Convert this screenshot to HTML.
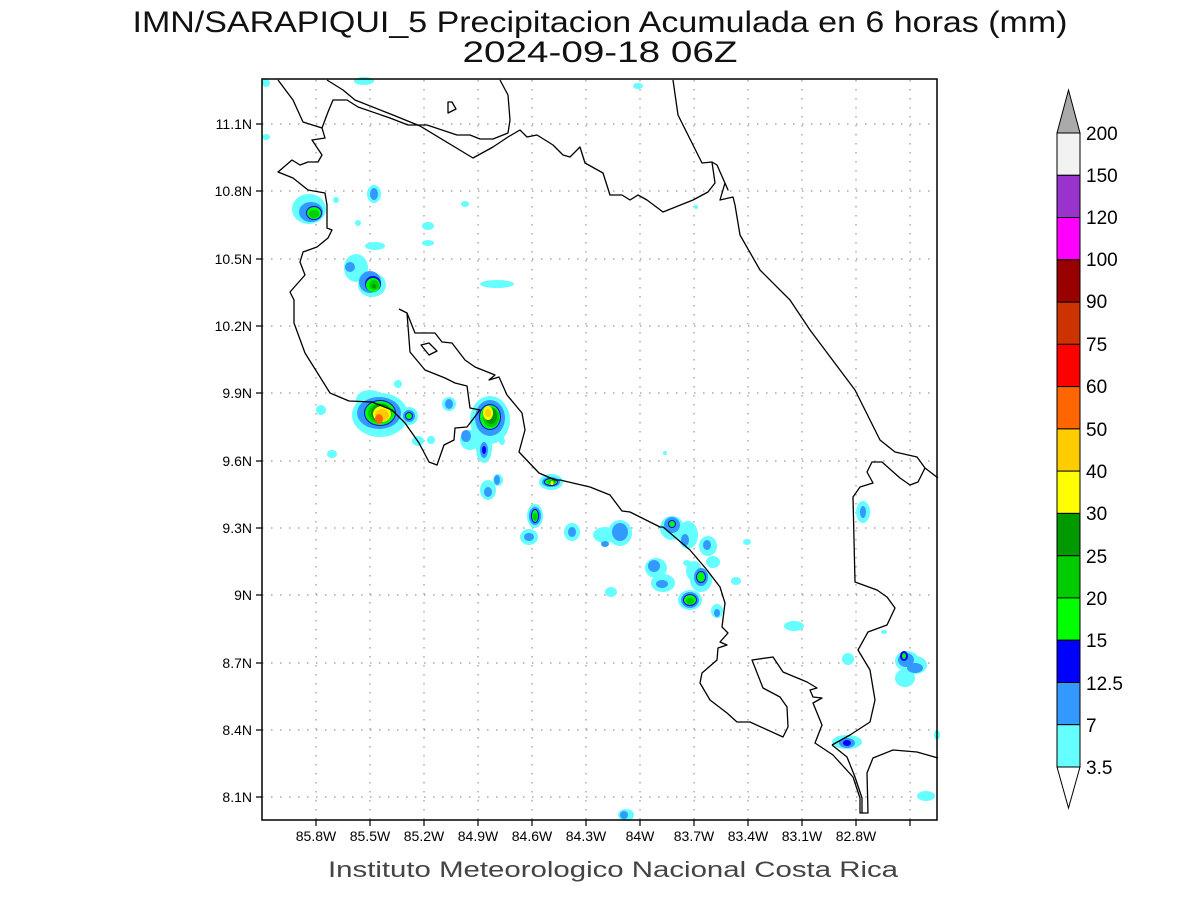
<!DOCTYPE html>
<html><head><meta charset="utf-8"><style>
html,body{margin:0;padding:0;background:#fff;}
svg{display:block;}
text{font-family:"Liberation Sans",sans-serif;}
</style></head><body>
<svg width="1200" height="900" viewBox="0 0 1200 900" xmlns="http://www.w3.org/2000/svg">
<rect width="1200" height="900" fill="#fff"/>
<text x="600" y="32" font-size="30" text-anchor="middle" textLength="935" lengthAdjust="spacingAndGlyphs" fill="#111">IMN/SARAPIQUI_5 Precipitacion Acumulada en 6 horas (mm)</text>
<text x="600" y="62" font-size="30" text-anchor="middle" textLength="275" lengthAdjust="spacingAndGlyphs" fill="#111">2024-09-18 06Z</text>

<g stroke="#999" stroke-width="1.2" stroke-dasharray="1.5,7.5">
<path d="M316 80V820M370 80V820M424 80V820M478 80V820M532 80V820M586 80V820M640 80V820M694 80V820M748 80V820M802 80V820M856 80V820M910 80V820"/>
<path d="M262 124H937M262 191H937M262 259H937M262 326H937M262 393H937M262 461H937M262 528H937M262 595H937M262 663H937M262 730H937M262 797H937"/>
</g>

<g fill="#66ffff">
<ellipse cx="364" cy="81" rx="10" ry="4"/>
<ellipse cx="638" cy="86" rx="5" ry="3"/>
<ellipse cx="266" cy="83" rx="4" ry="4"/>
<ellipse cx="266" cy="137" rx="4" ry="3"/>
<ellipse cx="309" cy="209" rx="17" ry="15"/>
<ellipse cx="374" cy="194" rx="7" ry="9"/>
<ellipse cx="336" cy="200" rx="3" ry="3"/>
<ellipse cx="358" cy="223" rx="3" ry="3"/>
<ellipse cx="428" cy="226" rx="6" ry="4"/>
<ellipse cx="428" cy="243" rx="6" ry="3"/>
<ellipse cx="375" cy="246" rx="10" ry="4"/>
<ellipse cx="465" cy="204" rx="4" ry="3"/>
<ellipse cx="497" cy="284" rx="17" ry="4"/>
<ellipse cx="356" cy="268" rx="12" ry="14"/>
<ellipse cx="372" cy="285" rx="14" ry="12"/>
<ellipse cx="380" cy="415" rx="28" ry="22"/>
<ellipse cx="370" cy="400" rx="14" ry="10"/>
<ellipse cx="409" cy="416" rx="9" ry="9"/>
<ellipse cx="398" cy="384" rx="4" ry="4"/>
<ellipse cx="321" cy="410" rx="5" ry="5"/>
<ellipse cx="332" cy="454" rx="5" ry="4"/>
<ellipse cx="449" cy="404" rx="7" ry="7"/>
<ellipse cx="490" cy="420" rx="20" ry="24"/>
<ellipse cx="470" cy="440" rx="10" ry="10"/>
<ellipse cx="484" cy="448" rx="8" ry="15"/>
<ellipse cx="418" cy="441" rx="6" ry="5"/>
<ellipse cx="431" cy="440" rx="4" ry="4"/>
<ellipse cx="502" cy="441" rx="3" ry="4"/>
<ellipse cx="551" cy="482" rx="12" ry="8"/>
<ellipse cx="488" cy="490" rx="8" ry="10"/>
<ellipse cx="498" cy="480" rx="5" ry="6"/>
<ellipse cx="535" cy="516" rx="8" ry="12"/>
<ellipse cx="529" cy="537" rx="9" ry="8"/>
<ellipse cx="572" cy="532" rx="8" ry="9"/>
<ellipse cx="605" cy="535" rx="12" ry="8"/>
<ellipse cx="620" cy="533" rx="12" ry="13"/>
<ellipse cx="611" cy="592" rx="6" ry="5"/>
<ellipse cx="672" cy="528" rx="12" ry="12"/>
<ellipse cx="688" cy="535" rx="10" ry="14"/>
<ellipse cx="708" cy="546" rx="9" ry="10"/>
<ellipse cx="656" cy="568" rx="11" ry="10"/>
<ellipse cx="663" cy="583" rx="12" ry="9"/>
<ellipse cx="687" cy="563" rx="4" ry="3"/>
<ellipse cx="694" cy="571" rx="8" ry="10"/>
<ellipse cx="701" cy="580" rx="11" ry="12"/>
<ellipse cx="690" cy="600" rx="12" ry="10"/>
<ellipse cx="717" cy="611" rx="6" ry="7"/>
<ellipse cx="713" cy="562" rx="7" ry="6"/>
<ellipse cx="736" cy="581" rx="5" ry="4"/>
<ellipse cx="747" cy="542" rx="4" ry="3"/>
<ellipse cx="665" cy="453" rx="2" ry="2"/>
<ellipse cx="696" cy="207" rx="2" ry="2"/>
<ellipse cx="794" cy="626" rx="10" ry="5"/>
<ellipse cx="848" cy="659" rx="6" ry="6"/>
<ellipse cx="884" cy="632" rx="3" ry="2"/>
<ellipse cx="863" cy="512" rx="7" ry="11"/>
<ellipse cx="907" cy="661" rx="12" ry="10"/>
<ellipse cx="915" cy="665" rx="12" ry="9"/>
<ellipse cx="905" cy="678" rx="10" ry="9"/>
<ellipse cx="847" cy="742" rx="15" ry="7"/>
<ellipse cx="926" cy="796" rx="9" ry="5"/>
<ellipse cx="937" cy="735" rx="3" ry="5"/>
<ellipse cx="626" cy="815" rx="8" ry="6"/>
</g>
<g fill="#3399ff">
<ellipse cx="311" cy="212" rx="12" ry="10"/>
<ellipse cx="374" cy="194" rx="4" ry="6"/>
<ellipse cx="350" cy="267" rx="5" ry="5"/>
<ellipse cx="370" cy="282" rx="11" ry="11"/>
<ellipse cx="379" cy="413" rx="22" ry="16"/>
<ellipse cx="409" cy="416" rx="6" ry="6"/>
<ellipse cx="449" cy="404" rx="4" ry="5"/>
<ellipse cx="490" cy="418" rx="15" ry="18"/>
<ellipse cx="466" cy="436" rx="5" ry="6"/>
<ellipse cx="484" cy="450" rx="4" ry="8"/>
<ellipse cx="551" cy="482" rx="9" ry="5"/>
<ellipse cx="497" cy="480" rx="3" ry="5"/>
<ellipse cx="488" cy="492" rx="4" ry="5"/>
<ellipse cx="535" cy="516" rx="6" ry="9"/>
<ellipse cx="529" cy="537" rx="5" ry="4"/>
<ellipse cx="572" cy="532" rx="4" ry="5"/>
<ellipse cx="620" cy="532" rx="8" ry="9"/>
<ellipse cx="605" cy="544" rx="4" ry="3"/>
<ellipse cx="672" cy="525" rx="8" ry="8"/>
<ellipse cx="685" cy="540" rx="4" ry="6"/>
<ellipse cx="707" cy="545" rx="4" ry="5"/>
<ellipse cx="654" cy="566" rx="6" ry="6"/>
<ellipse cx="662" cy="584" rx="6" ry="4"/>
<ellipse cx="701" cy="577" rx="7" ry="9"/>
<ellipse cx="690" cy="600" rx="9" ry="8"/>
<ellipse cx="717" cy="613" rx="3" ry="4"/>
<ellipse cx="863" cy="512" rx="3" ry="6"/>
<ellipse cx="906" cy="660" rx="8" ry="7"/>
<ellipse cx="915" cy="668" rx="8" ry="5"/>
<ellipse cx="847" cy="743" rx="8" ry="5"/>
<ellipse cx="624" cy="815" rx="4" ry="4"/>
</g>
<g fill="#0000ff">
<ellipse cx="314" cy="213" rx="8" ry="7"/>
<ellipse cx="373" cy="284" rx="8" ry="8"/>
<ellipse cx="380" cy="413" rx="16" ry="13"/>
<ellipse cx="409" cy="416" rx="4" ry="4"/>
<ellipse cx="490" cy="417" rx="11" ry="13"/>
<ellipse cx="484" cy="450" rx="2" ry="4"/>
<ellipse cx="551" cy="482" rx="7" ry="4"/>
<ellipse cx="535" cy="516" rx="4" ry="7"/>
<ellipse cx="672" cy="524" rx="4" ry="4"/>
<ellipse cx="701" cy="577" rx="5" ry="6"/>
<ellipse cx="690" cy="600" rx="7" ry="6"/>
<ellipse cx="904" cy="656" rx="4" ry="5"/>
<ellipse cx="847" cy="743" rx="4" ry="3"/>
</g>
<g fill="#00ff00">
<ellipse cx="314" cy="213" rx="7" ry="6"/>
<ellipse cx="373" cy="285" rx="7" ry="7"/>
<ellipse cx="380" cy="413" rx="15" ry="12"/>
<ellipse cx="409" cy="416" rx="3" ry="3"/>
<ellipse cx="490" cy="417" rx="10" ry="12"/>
<ellipse cx="551" cy="482" rx="6" ry="3"/>
<ellipse cx="535" cy="516" rx="3" ry="6"/>
<ellipse cx="672" cy="524" rx="3" ry="3"/>
<ellipse cx="701" cy="577" rx="4" ry="5"/>
<ellipse cx="690" cy="600" rx="6" ry="5"/>
<ellipse cx="904" cy="656" rx="2" ry="3"/>
</g>
<g fill="#00cc00">
<ellipse cx="314" cy="214" rx="5" ry="4"/>
<ellipse cx="374" cy="285" rx="5" ry="5"/>
<ellipse cx="380" cy="413" rx="12" ry="10"/>
<ellipse cx="491" cy="417" rx="8" ry="10"/>
<ellipse cx="552" cy="482" rx="4" ry="2"/>
<ellipse cx="535" cy="517" rx="2" ry="4"/>
<ellipse cx="690" cy="601" rx="4" ry="3"/>
</g>
<g fill="#009900">
<ellipse cx="381" cy="413" rx="10" ry="9"/>
<ellipse cx="491" cy="416" rx="6" ry="8"/>
<ellipse cx="374" cy="286" rx="2" ry="2"/>
</g>
<ellipse cx="382" cy="414" rx="9" ry="8" fill="#ffff00"/>
<ellipse cx="488" cy="413" rx="5" ry="7" fill="#ffff00"/>
<ellipse cx="552" cy="483" rx="1.5" ry="2" fill="#ffff00"/>
<ellipse cx="382" cy="415" rx="7" ry="6" fill="#ffcc00"/>
<ellipse cx="488" cy="413" rx="3" ry="4" fill="#ffcc00"/>
<ellipse cx="379" cy="419" rx="4" ry="5" fill="#ff6600"/>

<g fill="none" stroke="#000" stroke-width="1.3" stroke-linejoin="round">
<polyline points="278,80 293,100 303,122 322,128 325,138 312,140 322,155 318,162 308,162 300,165 292,160 278,172 293,178 308,190 325,193 327,205 327,228 332,230 328,238 317,247 303,252 300,262 305,275 290,292 294,300 294,323 305,353 330,393 349,401 372,402 392,410 405,423 419,443 429,462 437,465 444,445 454,440 455,428 467,427 480,410 470,408 467,386 455,383 445,378 425,370 410,352 407,313 399,309"/>
<polyline points="407,313 415,333 435,333 442,342 452,343 465,360 475,367 495,375 489,380 499,377 507,395 522,413 525,430 519,452 539,473 555,480 560,480 590,487 610,495 622,511 630,512 660,527 663,527 690,550 707,570 720,587 725,603 722,627 728,633 720,642 727,645 718,648 717,660 702,673 700,683 710,700 727,713 737,722 750,722 783,737 788,727 787,707 780,697 763,688 752,660 773,657 783,672 807,682 817,688 810,690 813,697 822,698 813,703 822,725 815,743 833,755 853,777 860,798 860,813 868,813 867,773 873,758 893,750 917,752 938,758"/>
<polygon points="421,345 429,343 437,351 429,355"/>
<polygon points="448,102 452,102 456,109 448,113"/>
<polyline points="327,80 343,90 355,100 393,115 420,126 473,158 493,147 508,137 520,130 527,137 537,135 553,145 563,155 570,157 580,147 585,163 603,173 610,195 622,195 630,200 638,195 647,200 663,212 693,200 708,192 715,183 712,162"/>
<polyline points="322,128 328,112 333,100 347,100 358,107 390,118 408,125 427,125 457,135 470,135 480,139 493,139 508,133 510,120 508,95 500,80"/>
<polyline points="673,80 678,115 693,145 702,163 712,162 717,165 728,190 725,183 720,200 733,197 735,205 740,235 760,270 790,300 810,330 840,370 855,390 865,410 880,440 895,452 917,457 925,468 938,478"/>
<polyline points="832,745 850,735 870,722 875,700 870,670 858,650 868,632 887,625 895,608 887,597 877,590 855,582 853,497 860,487 873,483 867,472 872,462 882,462 900,478 910,485 918,482 925,468"/>
<polyline points="832,745 847,757 855,777 862,798 862,813"/>
</g>

<rect x="262" y="79" width="675" height="741" fill="none" stroke="#000" stroke-width="1.5"/>
<g stroke="#000" stroke-width="1.2">
<path d="M256 124H262M256 191H262M256 259H262M256 326H262M256 393H262M256 461H262M256 528H262M256 595H262M256 663H262M256 730H262M256 797H262"/>
<path d="M316 820V826M370 820V826M424 820V826M478 820V826M532 820V826M586 820V826M640 820V826M694 820V826M748 820V826M802 820V826M856 820V826M910 820V826"/>
</g>
<g font-size="14" fill="#000" text-anchor="end">
<text x="252" y="129">11.1N</text><text x="252" y="196">10.8N</text><text x="252" y="264">10.5N</text><text x="252" y="331">10.2N</text><text x="252" y="398">9.9N</text><text x="252" y="466">9.6N</text><text x="252" y="533">9.3N</text><text x="252" y="600">9N</text><text x="252" y="668">8.7N</text><text x="252" y="735">8.4N</text><text x="252" y="802">8.1N</text>
</g>
<g font-size="14" fill="#000" text-anchor="middle">
<text x="316" y="841">85.8W</text><text x="370" y="841">85.5W</text><text x="424" y="841">85.2W</text><text x="478" y="841">84.9W</text><text x="532" y="841">84.6W</text><text x="586" y="841">84.3W</text><text x="640" y="841">84W</text><text x="694" y="841">83.7W</text><text x="748" y="841">83.4W</text><text x="802" y="841">83.1W</text><text x="856" y="841">82.8W</text>
</g>
<text x="613" y="877" font-size="22" text-anchor="middle" textLength="570" lengthAdjust="spacingAndGlyphs" fill="#444">Instituto Meteorologico Nacional Costa Rica</text>

<g stroke="#000" stroke-width="1">
<polygon points="1057,133 1080,133 1068.5,90" fill="#aaaaaa"/>
<rect x="1057" y="133" width="23" height="42.3" fill="#f2f2f2"/>
<rect x="1057" y="175.3" width="23" height="42.3" fill="#9933cc"/>
<rect x="1057" y="217.5" width="23" height="42.3" fill="#ff00ff"/>
<rect x="1057" y="259.8" width="23" height="42.3" fill="#990000"/>
<rect x="1057" y="302.1" width="23" height="42.3" fill="#cc3300"/>
<rect x="1057" y="344.3" width="23" height="42.3" fill="#ff0000"/>
<rect x="1057" y="386.6" width="23" height="42.3" fill="#ff6600"/>
<rect x="1057" y="428.9" width="23" height="42.3" fill="#ffcc00"/>
<rect x="1057" y="471.1" width="23" height="42.3" fill="#ffff00"/>
<rect x="1057" y="513.4" width="23" height="42.3" fill="#009900"/>
<rect x="1057" y="555.7" width="23" height="42.3" fill="#00cc00"/>
<rect x="1057" y="597.9" width="23" height="42.3" fill="#00ff00"/>
<rect x="1057" y="640.2" width="23" height="42.3" fill="#0000ff"/>
<rect x="1057" y="682.5" width="23" height="42.3" fill="#3399ff"/>
<rect x="1057" y="724.7" width="23" height="42.3" fill="#66ffff"/>
<polygon points="1057,767 1080,767 1068.5,808" fill="#ffffff"/>
</g>
<g font-size="19" fill="#000">
<text x="1086" y="140">200</text><text x="1086" y="182">150</text><text x="1086" y="224">120</text><text x="1086" y="266">100</text><text x="1086" y="308">90</text><text x="1086" y="351">75</text><text x="1086" y="393">60</text><text x="1086" y="436">50</text><text x="1086" y="478">40</text><text x="1086" y="520">30</text><text x="1086" y="563">25</text><text x="1086" y="605">20</text><text x="1086" y="647">15</text><text x="1086" y="690">12.5</text><text x="1086" y="732">7</text><text x="1086" y="774">3.5</text>
</g>
</svg>
</body></html>
